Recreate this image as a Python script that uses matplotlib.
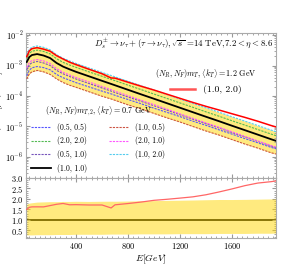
import matplotlib
matplotlib.use("Agg")
import matplotlib.pyplot as plt
import numpy as np
from matplotlib.lines import Line2D
from matplotlib.ticker import AutoMinorLocator, MultipleLocator

plt.rcParams['font.family'] = 'serif'
plt.rcParams['font.serif'] = ['cmr10', 'DejaVu Serif']
plt.rcParams['mathtext.fontset'] = 'cm'
plt.rcParams['axes.unicode_minus'] = False
plt.rcParams['axes.formatter.use_mathtext'] = True

# energy grid (GeV)
energy = [20, 40, 60, 100, 150, 200, 250, 300, 350, 400, 500, 600, 670, 700, 800,
          900, 1000, 1100, 1200, 1300, 1400, 1500, 1600, 1700, 1800, 1900, 1940]

# <kT> = 0.7 GeV, (N_R, N_F) variations
s_10_10 = [1.30e-3, 1.90e-3, 2.21e-3, 2.38e-3, 2.13e-3, 1.76e-3, 1.21e-3, 9.2e-4, 7.5e-4,
           6.2e-4, 4.41e-4, 3.14e-4, 2.48e-4, 2.24e-4, 1.59e-4, 1.13e-4, 8.07e-5, 5.75e-5,
           4.09e-5, 2.91e-5, 2.07e-5, 1.48e-5, 1.05e-5, 7.48e-6, 5.33e-6, 3.79e-6, 3.33e-6]
s_10_20 = [2.28e-3, 3.42e-3, 4.02e-3, 4.40e-3, 3.96e-3, 3.29e-3, 2.26e-3, 1.73e-3, 1.41e-3,
           1.17e-3, 8.29e-4, 5.93e-4, 4.69e-4, 4.23e-4, 3.02e-4, 2.16e-4, 1.55e-4, 1.11e-4,
           7.93e-5, 5.67e-5, 4.06e-5, 2.92e-5, 2.07e-5, 1.48e-5, 1.06e-5, 7.58e-6, 6.66e-6]
s_20_20 = [1.69e-3, 2.51e-3, 2.94e-3, 3.21e-3, 2.90e-3, 2.41e-3, 1.67e-3, 1.27e-3, 1.04e-3,
           8.68e-4, 6.17e-4, 4.43e-4, 3.50e-4, 3.18e-4, 2.26e-4, 1.62e-4, 1.15e-4, 8.28e-5,
           5.89e-5, 4.22e-5, 3.00e-5, 2.16e-5, 1.53e-5, 1.10e-5, 7.84e-6, 5.61e-6, 4.93e-6]
s_20_10 = [8.58e-4, 1.25e-3, 1.46e-3, 1.57e-3, 1.41e-3, 1.16e-3, 7.87e-4, 5.98e-4, 4.88e-4,
           4.03e-4, 2.87e-4, 2.04e-4, 1.61e-4, 1.43e-4, 1.02e-4, 7.23e-5, 5.16e-5, 3.68e-5,
           2.58e-5, 1.83e-5, 1.30e-5, 9.32e-6, 6.62e-6, 4.64e-6, 3.30e-6, 2.35e-6, 2.06e-6]
s_05_10 = [7.15e-4, 1.06e-3, 1.24e-3, 1.36e-3, 1.21e-3, 1.00e-3, 6.90e-4, 5.34e-4, 4.35e-4,
           3.60e-4, 2.56e-4, 1.82e-4, 1.44e-4, 1.30e-4, 9.22e-5, 6.67e-5, 4.76e-5, 3.39e-5,
           2.41e-5, 1.72e-5, 1.22e-5, 8.88e-6, 6.30e-6, 4.49e-6, 3.20e-6, 2.27e-6, 2.00e-6]
s_05_05 = [4.68e-4, 7.03e-4, 8.40e-4, 9.28e-4, 8.52e-4, 7.22e-4, 5.08e-4, 3.96e-4, 3.30e-4,
           2.73e-4, 1.98e-4, 1.44e-4, 1.17e-4, 1.05e-4, 7.63e-5, 5.54e-5, 3.95e-5, 2.88e-5,
           2.09e-5, 1.48e-5, 1.08e-5, 7.70e-6, 5.57e-6, 3.96e-6, 2.88e-6, 2.05e-6, 1.83e-6]
s_10_05 = [3.64e-4, 5.32e-4, 6.19e-4, 6.90e-4, 6.18e-4, 5.10e-4, 3.63e-4, 2.76e-4, 2.25e-4,
           1.92e-4, 1.37e-4, 9.73e-5, 7.94e-5, 7.17e-5, 5.09e-5, 3.73e-5, 2.66e-5, 1.90e-5,
           1.39e-5, 9.89e-6, 7.04e-6, 5.18e-6, 3.68e-6, 2.62e-6, 1.92e-6, 1.36e-6, 1.23e-6]

# <kT> = 1.2 GeV, (1.0, 2.0)
s_kt12 = [1.95e-3, 3.04e-3, 3.58e-3, 3.86e-3, 3.45e-3, 2.96e-3, 2.11e-3, 1.64e-3, 1.29e-3,
          1.07e-3, 7.54e-4, 5.37e-4, 3.89e-4, 3.85e-4, 2.83e-4, 2.09e-4, 1.56e-4, 1.14e-4,
          8.34e-5, 6.11e-5, 4.55e-5, 3.45e-5, 2.60e-5, 1.97e-5, 1.47e-5, 1.07e-5, 9.52e-6]

E = np.array(energy)
central = np.array(s_10_10)
variations = [
    ('(0.5, 0.5)', s_05_05, '#5555ff'),
    ('(2.0, 2.0)', s_20_20, '#55bb55'),
    ('(0.5, 1.0)', s_05_10, '#7755bb'),
    ('(1.0, 1.0)', s_10_10, 'black'),
    ('(1.0, 0.5)', s_10_05, '#cc5544'),
    ('(2.0, 1.0)', s_20_10, '#ff55ff'),
    ('(1.0, 2.0)', s_10_20, '#55ccee'),
]
allv = np.array([v[1] for v in variations])
lo, hi = allv.min(axis=0), allv.max(axis=0)

fig = plt.figure(figsize=(2.93, 2.73), dpi=100)
ax = fig.add_axes([0.089, 0.348, 0.853, 0.531])
axr = fig.add_axes([0.089, 0.128, 0.853, 0.22], sharex=ax)

ax.fill_between(E, lo, hi, color='gold', alpha=0.5, lw=0, zorder=1)
handles = []
for lab, vals, col in variations:
    if col == 'black':
        ln, = ax.plot(E, vals, color=col, lw=1.3, zorder=4, label=lab)
    else:
        ln, = ax.plot(E, vals, color=col, lw=0.8, ls=(0, (2, 1)), zorder=3, label=lab)
    handles.append(ln)
ax.plot(E, s_kt12, color='red', lw=1.1, zorder=5)

ax.set_yscale('log')
ax.set_ylim(2.0e-7, 1.17e-2)
ax.set_xlim(15, 1940)
ax.set_ylabel(r'$d\sigma/dE\ [\mu b/GeV]$', fontsize=7, labelpad=0)
ax.text(0.99, 0.975, r'$D_s^{\pm}\rightarrow \nu_\tau + (\tau\rightarrow\nu_\tau),\sqrt{s}$ =14 TeV,$7.2<\eta<$8.6',
        transform=ax.transAxes, ha='right', va='top', fontsize=6.4)

red_h = Line2D([], [], color='#ff5555', lw=1.8)
leg1 = ax.legend([red_h], ['(1.0, 2.0)'], title=r'$(N_R,N_F)m_T,\langle k_T\rangle = 1.2$ GeV',
                 loc='upper right', bbox_to_anchor=(0.95, 0.81), frameon=False,
                 fontsize=7, title_fontsize=5.8, handlelength=2.5, borderpad=0.2)
ax.add_artist(leg1)
ax.legend(handles, [v[0] for v in variations],
          title=r'$(N_R,N_F)m_{T,2},\langle k_T\rangle = 0.7$ GeV',
          loc='lower left', bbox_to_anchor=(0.0, 0.0), ncol=2, frameon=False,
          fontsize=5.5, title_fontsize=5.8, handlelength=2.6, columnspacing=2.8,
          labelspacing=0.6, borderpad=0.2)

# ratio panel
axr.plot(E, central / central, color='black', lw=1.3, zorder=1)
axr.fill_between(E, lo / central, hi / central, color='gold', alpha=0.5, lw=0, zorder=2)
axr.plot(E, np.array(s_kt12) / central, color='#ff6666', lw=0.9, zorder=3)
axr.set_ylim(0.13, 3.0)
axr.yaxis.set_major_locator(MultipleLocator(0.5))
axr.xaxis.set_major_locator(MultipleLocator(400))
axr.set_xlabel(r'$E[GeV]$', fontsize=7, labelpad=1)

for a in (ax, axr):
    a.tick_params(which='both', direction='in', top=True, right=True, labelsize=6,
                  color='#999999', pad=2)
    a.tick_params(which='major', length=3)
    a.tick_params(which='minor', length=1.5)
    a.xaxis.set_minor_locator(AutoMinorLocator(10))
    for sp in a.spines.values():
        sp.set_color('#aaaaaa')
        sp.set_linewidth(0.8)
axr.yaxis.set_minor_locator(AutoMinorLocator(5))
plt.setp(ax.get_xticklabels(), visible=False)

fig.savefig('out.png', dpi=100)
